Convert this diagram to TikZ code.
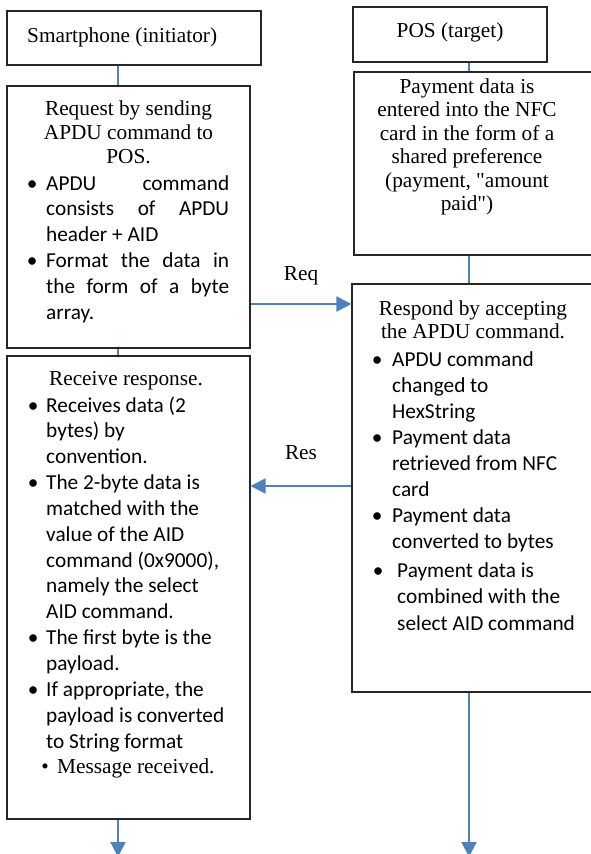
\documentclass[tikz,border=0pt]{standalone}
\usepackage{fontspec}
\setmainfont{Liberation Serif}[Ligatures=TeXOff]
\newfontfamily\calib{Carlito}
\usetikzlibrary{arrows.meta}
\definecolor{flowblue}{HTML}{4F81BD}
\definecolor{boxline}{HTML}{262626}
\newlength{\bind}
\newcommand{\bi}[1]{\makebox[0pt]{\textbullet}\hspace*{\bind}#1}
\newcommand{\bc}[1]{\hspace*{\bind}#1}
\newcommand{\js}[1]{\makebox[183pt][s]{#1}}
\begin{document}
\begin{tikzpicture}[x=1pt,y=-1pt,
  box/.style={draw=boxline, line width=1.1pt, inner sep=0pt, fill=white},
  hdr/.style={inner sep=0pt, anchor=base, font=\fontsize{21.3}{24}\selectfont},
  blist/.style={inner sep=0pt, anchor=base west, font=\calib\fontsize{21.3}{25.85}\selectfont},
  link/.style={draw=flowblue, line width=2pt},
  flow/.style={link, -{Triangle[width=15pt,length=15pt]}},
  lbl/.style={inner sep=0pt, anchor=base, font=\fontsize{21.3}{24}\selectfont}]
\useasboundingbox (0,0) rectangle (591,854);
% guide coordinates
\coordinate (xl) at (118,0);
\coordinate (xr) at (469,0);
\coordinate (yreq) at (0,304);
\coordinate (yres) at (0,486);
\coordinate (endl) at (118,857);
\coordinate (endr) at (469,857);
% boxes
\node[box, minimum width=254pt, minimum height=54pt] (b1) at (134,38) {};
\node[box, minimum width=243pt, minimum height=262pt] (b2) at (128.5,217) {};
\node[box, minimum width=243pt, minimum height=463pt] (b3) at (128.5,587.5) {};
\node[box, minimum width=194pt, minimum height=55pt] (p1) at (450,34.5) {};
\node[box, minimum width=241pt, minimum height=183pt] (p2) at (474.5,163.5) {};
\node[box, minimum width=243pt, minimum height=408pt] (p3) at (473.5,488) {};
% connectors
\draw[link] (b1.south -| xl) -- (b2.north -| xl);
\draw[link] (b2.south -| xl) -- (b3.north -| xl);
\draw[flow] (b3.south -| xl) -- (endl);
\draw[link] (p1.south -| xr) -- (p2.north -| xr);
\draw[link] (p2.south -| xr) -- (p3.north -| xr);
\draw[flow] (p3.south -| xr) -- (endr);
\draw[flow] (b2.east |- yreq) -- node[lbl, pos=0.5, yshift=24pt] (req) {Req} (p3.west |- yreq);
\draw[flow] (p3.west |- yres) -- node[lbl, pos=0.5, yshift=27pt] (res) {Res} (b3.east |- yres);
% texts
\node[inner sep=0pt, anchor=base west, font=\fontsize{21.3}{24}\selectfont] (t1) at (27,42) {Smartphone (initiator)};
\node[hdr] (t2) at (450,37) {POS (target)};
\node[hdr] (t3) at (128.5,115) {\begin{tabular}[t]{@{}c@{}}Request by sending\\APDU command to\\POS.\end{tabular}};
\setlength{\bind}{14pt}
\node[blist] (t4) at (32,190) {\begin{tabular}[t]{@{}l@{}}
\bi{\js{APDU command}}\\
\bc{\js{consists of APDU}}\\
\bc{header + AID}\\
\bi{\js{Format the data in}}\\
\bc{\js{the form of a byte}}\\
\bc{array.}
\end{tabular}};
\node[hdr] (t5) at (126,385) {Receive response.};
\node[blist] (t6) at (33,412) {\setlength{\bind}{13pt}\begin{tabular}[t]{@{}l@{}}
\bi{Receives data (2}\\
\bc{bytes) by}\\
\bc{convention.}\\
\bi{The 2-byte data is}\\
\bc{matched with the}\\
\bc{value of the AID}\\
\bc{command (0x9000),}\\
\bc{namely the select}\\
\bc{AID command.}\\
\bi{The first byte is the}\\
\bc{payload.}\\
\bi{If appropriate, the}\\
\bc{payload is converted}\\
\bc{to String format}
\end{tabular}};
\node[inner sep=0pt, anchor=base west, font=\fontsize{21.3}{24}\selectfont] (t7) at (45,773) {\makebox[0pt]{\textbullet}\hspace*{12pt}Message received.};
\node[inner sep=0pt, anchor=base, font=\fontsize{21.3}{23.5}\selectfont] (t8) at (467,93) {\begin{tabular}[t]{@{}c@{}}Payment data is\\entered into the NFC\\card in the form of a\\shared preference\\(payment, "amount\\paid")\end{tabular}};
\node[inner sep=0pt, anchor=base, font=\fontsize{21.3}{23}\selectfont] (t9) at (473,315) {\begin{tabular}[t]{@{}c@{}}Respond by accepting\\the APDU command.\end{tabular}};
\node[blist, font=\calib\fontsize{21.3}{26}\selectfont] (t10) at (377,366) {\setlength{\bind}{15pt}\begin{tabular}[t]{@{}l@{}}
\bi{APDU command}\\
\bc{changed to}\\
\bc{HexString}\\
\bi{Payment data}\\
\bc{retrieved from NFC}\\
\bc{card}\\
\bi{Payment data}\\
\bc{converted to bytes}
\end{tabular}};
\node[blist, font=\calib\fontsize{21.3}{26.5}\selectfont] (t11) at (378,577) {\setlength{\bind}{19pt}\begin{tabular}[t]{@{}l@{}}
\bi{Payment data is}\\
\bc{combined with the}\\
\bc{select AID command}
\end{tabular}};
\end{tikzpicture}
\end{document}
